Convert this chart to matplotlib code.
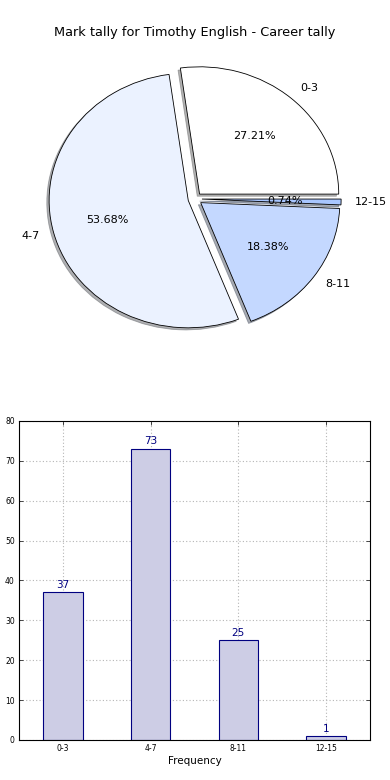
import matplotlib
matplotlib.use("Agg")
import matplotlib.pyplot as plt

categories = ["0-3", "4-7", "8-11", "12-15"]
counts = [37, 73, 25, 1]
pie_colors = ["#ffffff", "#ebf2ff", "#c4d8ff", "#a8c6ff"]
title = "Mark tally for Timothy English - Career tally"

fig = plt.figure(figsize=(3.9, 7.8), dpi=100, facecolor="white")

ax1 = fig.add_axes([0.054, 0.541, 0.892, 0.408])
wedges, texts, autotexts = ax1.pie(
    counts, labels=categories, colors=pie_colors, autopct="%1.2f%%",
    explode=[0.05] * len(counts),
    shadow=dict(ox=-0.012, oy=-0.012, shade=0.6),
    startangle=0,
    wedgeprops=dict(edgecolor="black", linewidth=0.6),
    textprops=dict(fontsize=8))
ax1.set_aspect("auto")
ax1.set_xlim(-1.25, 1.25)
ax1.set_ylim(-1.25, 1.25)
ax1.set_title(title, fontsize=9.3, pad=3)

ax2 = fig.add_axes([0.0487, 0.0513, 0.9, 0.409])
x = list(range(len(categories)))
bars = ax2.bar(x, counts, width=0.45, color="#cdcde5", edgecolor="#000080",
               linewidth=0.8, zorder=2)
for xi, v in zip(x, counts):
    ax2.text(xi, v + 0.6, str(v), ha="center", va="bottom", color="#000080",
             fontsize=7.5)
ax2.set_xlim(-0.5, 3.5)
ax2.set_ylim(0, 80)
ax2.set_xticks(x)
ax2.set_xticklabels(categories)
ax2.set_yticks(range(0, 81, 10))
ax2.tick_params(axis="both", labelsize=5.5, direction="in", top=True, right=True,
                length=3, width=0.5, pad=3)
ax2.grid(True, linestyle=(0, (1, 2)), color="#b5b5b5", linewidth=0.8, zorder=0)
ax2.set_axisbelow(True)
ax2.set_xlabel("Frequency", fontsize=7.5, labelpad=2)
for s in ax2.spines.values():
    s.set_linewidth(0.8)

fig.savefig("out.png", dpi=100, facecolor="white")
